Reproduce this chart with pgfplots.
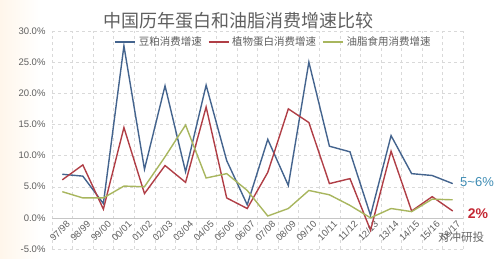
\documentclass[border=0pt]{standalone}
\usepackage{fontspec}
\setmainfont{Liberation Sans}
\newfontfamily\cjk{Noto Sans CJK SC}
\usepackage{pgfplots}
\pgfplotsset{compat=1.18}
\definecolor{cblue}{RGB}{68,100,142}
\definecolor{cred}{RGB}{176,62,70}
\definecolor{cgreen}{RGB}{168,182,94}
\definecolor{ctext}{RGB}{95,95,95}
\definecolor{anblue}{RGB}{62,140,180}
\definecolor{anred}{RGB}{196,40,52}
\begin{document}
\begin{tikzpicture}
\path[use as bounding box] (0pt,0pt) rectangle (500pt,259pt);
\fill[left color=yellow!12!orange!8, right color=white] (0pt,0pt) rectangle (40pt,259pt);
\begin{axis}[
  at={(52pt,10pt)}, anchor=south west,
  scale only axis, width=411pt, height=218pt,
  xmin=-0.5, xmax=19.5, ymin=-5, ymax=30,
  axis x line=middle, axis y line=left,
  axis line style={-, draw=gray!45},
  y axis line style={draw=none},
  major tick length=0pt, minor tick length=0pt,
  xtick={0,...,19},
  xticklabels={97/98,98/99,99/00,00/01,01/02,02/03,03/04,04/05,05/06,06/07,07/08,08/09,09/10,10/11,11/12,12/13,13/14,14/15,15/16,16/17},
  minor xtick={-0.5,0.5,...,19.5},
  xminorgrids=true, ymajorgrids=true,
  grid style={dashed, draw=gray!30},
  minor grid style={dashed, draw=gray!30},
  ytick={-5,0,5,10,15,20,25,30},
  yticklabels={-5.0\%,0.0\%,5.0\%,10.0\%,15.0\%,20.0\%,25.0\%,30.0\%},
  ticklabel style={font=\fontsize{9.5}{10}\selectfont, text=ctext},
  xticklabel style={rotate=45, anchor=north east, inner sep=1pt, yshift=-3pt, xshift=2pt},
  yticklabel style={xshift=-3pt},
  clip=false,
  legend style={at={(0.539,0.95)}, anchor=center, draw=none, fill=none,
    legend columns=3, font=\cjk\fontsize{10.5}{11}\selectfont, text=ctext,
    /tikz/every odd column/.append style={column sep=1pt},
    /tikz/every even column/.append style={column sep=4pt}},
  legend image code/.code={\draw[#1] (0pt,0pt) -- (20pt,0pt);},
]
\addplot[cblue, line width=1.4pt] coordinates {
(0,7.0) (1,6.7) (2,2.3) (3,27.6) (4,7.8) (5,21.2) (6,7.4) (7,21.3) (8,9.2) (9,2.1)
(10,12.6) (11,5.2) (12,25.0) (13,11.5) (14,10.6) (15,0.4) (16,13.2) (17,7.1) (18,6.8) (19,5.5)};
\addlegendentry{豆粕消费增速}
\addplot[cred, line width=1.4pt] coordinates {
(0,6.1) (1,8.5) (2,1.4) (3,14.5) (4,3.9) (5,8.4) (6,5.7) (7,17.8) (8,3.2) (9,1.5)
(10,7.3) (11,17.5) (12,15.3) (13,5.5) (14,6.3) (15,-2.0) (16,10.7) (17,1.1) (18,3.4) (19,1.1)};
\addlegendentry{植物蛋白消费增速}
\addplot[cgreen, line width=1.4pt] coordinates {
(0,4.2) (1,3.2) (2,3.2) (3,5.1) (4,5.0) (5,9.8) (6,14.9) (7,6.4) (8,7.1) (9,4.4)
(10,0.3) (11,1.5) (12,4.4) (13,3.7) (14,2.0) (15,0.0) (16,1.5) (17,1.0) (18,3.0) (19,2.9)};
\addlegendentry{油脂食用消费增速}
\end{axis}
\node[font=\cjk\fontsize{18}{18}\selectfont, text=ctext] at (238pt,238pt) {中国历年蛋白和油脂消费增速比较};
\node[font=\fontsize{13}{13}\selectfont, text=anblue] at (477pt,77pt) {5\textasciitilde 6\%};
\node[font=\bfseries\fontsize{14}{14}\selectfont, text=anred] at (478pt,45pt) {2\%};
\node[font=\cjk\fontsize{11.5}{12}\selectfont, text=black!60] at (461pt,22pt) {对冲研投};
\end{tikzpicture}
\end{document}
